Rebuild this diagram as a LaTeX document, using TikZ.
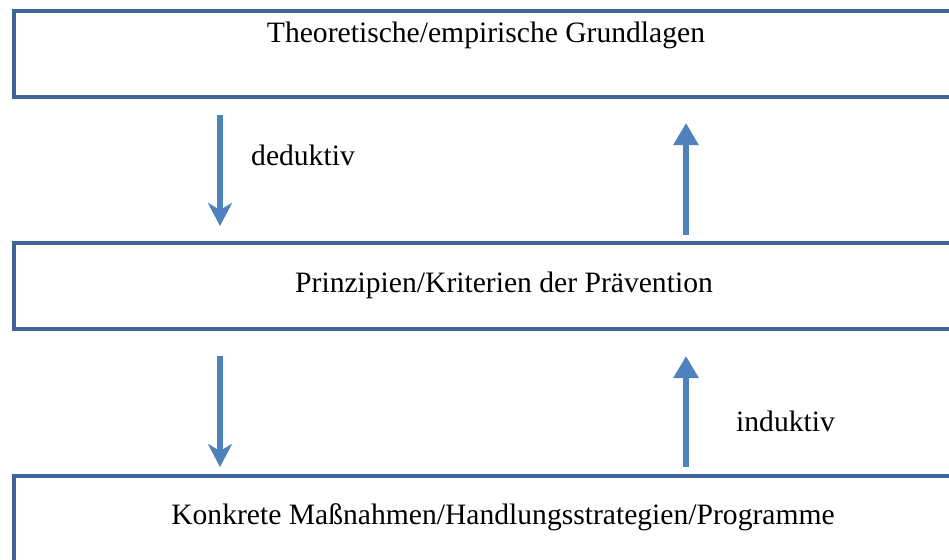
\documentclass[tikz,border=0pt]{standalone}
\usepackage{fontspec}
\setmainfont{Liberation Serif}
\usetikzlibrary{arrows.meta}
\definecolor{boxblue}{HTML}{3F6596}
\definecolor{arrblue}{HTML}{4F81BD}
\begin{document}
\begin{tikzpicture}[x=1pt,y=-1pt,
  box/.style={draw=boxblue,line width=3.2pt,fill=white,inner sep=0pt,outer sep=0pt},
  txt/.style={font=\fontsize{29.6}{35}\selectfont,inner sep=0pt,anchor=base},
  lbl/.style={font=\fontsize{29.6}{35}\selectfont,inner sep=0pt,anchor=west},
  darr/.style={draw=arrblue,line width=5.5pt,-{Stealth[length=23pt,width=24pt,inset=7pt]}},
  uarr/.style={draw=arrblue,line width=5.5pt,-{Triangle[length=22pt,width=24pt]}}]
\useasboundingbox (0,0) rectangle (949,559);
\clip (0,0) rectangle (949,559);
\fill[white] (0,0) rectangle (949,559);
% boxes
\node[box,minimum width=981pt,minimum height=86pt,anchor=north west] (top) at (14,11) {};
\node[box,minimum width=981pt,minimum height=86pt,anchor=north west] (mid) at (14,243) {};
\node[box,minimum width=981pt,minimum height=120pt,anchor=north west] (bot) at (14,476) {};
% texts
\node[txt] (ttop) at (486,43) {Theoretische/empirische Grundlagen};
\node[txt] (tmid) at (504,292) {Prinzipien/Kriterien der Prävention};
\node[txt] (tbot) at (503,524) {Konkrete Maßnahmen/Handlungsstrategien/Programme};
% arrow columns
\coordinate (L) at (220,0);
\coordinate (R) at (686,0);
% arrows
\draw[darr,shorten <=18pt,shorten >=17pt] (L |- top.south) -- (L |- mid.north);
\draw[uarr,shorten <=8pt,shorten >=26pt] (R |- mid.north) -- (R |- top.south);
\draw[darr,shorten <=27pt,shorten >=9pt] (L |- mid.south) -- (L |- bot.north);
\draw[uarr,shorten <=9pt,shorten >=27pt] (R |- bot.north) -- (R |- mid.south);
% labels
\node[lbl] (ded) at (251,155) {deduktiv};
\node[lbl] (ind) at (736,421) {induktiv};
\end{tikzpicture}
\end{document}
